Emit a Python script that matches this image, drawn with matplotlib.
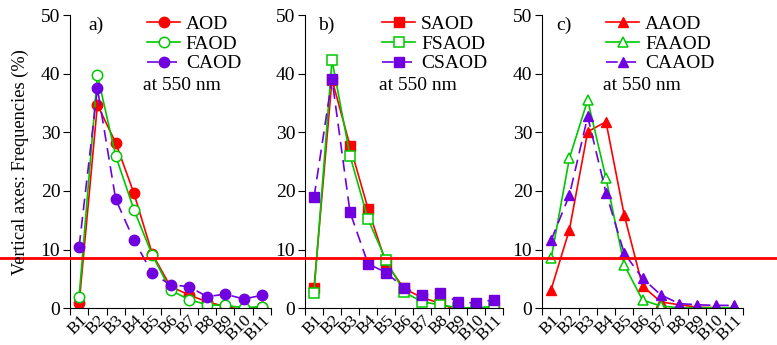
import matplotlib
matplotlib.use("Agg")
import matplotlib.pyplot as plt
from matplotlib.lines import Line2D
import numpy as np

plt.rcParams['font.family'] = ['Liberation Serif', 'DejaVu Serif']

bins = ['B1', 'B2', 'B3', 'B4', 'B5', 'B6', 'B7', 'B8', 'B9', 'B10', 'B11']

# panel a: AOD
aod = [0.85, 34.7, 28.2, 19.6, 9.3, 3.7, 2.3, 1.1, 0.3, -0.3, 0.3]
faod = [2.0, 39.8, 26.0, 16.8, 9.1, 3.1, 1.5, 0.6, 0.5, 0.1, 0.3]
caod = [10.5, 37.5, 18.6, 11.6, 6.0, 4.0, 3.7, 2.0, 2.4, 1.6, 2.2]

# panel b: SAOD
saod = [3.4, 39.0, 27.7, 17.0, 7.7, 3.4, 1.8, 0.9, -0.5, -0.7, 0.3]
fsaod = [2.6, 42.3, 26.0, 15.2, 8.2, 2.8, 1.1, 0.6, 0.1, 0.1, 0.3]
csaod = [18.9, 39.1, 16.4, 7.6, 6.1, 3.5, 2.2, 2.6, 1.1, 0.9, 1.5]

# panel c: AAOD
aaod = [3.2, 13.4, 30.1, 31.8, 15.9, 3.8, 1.1, 0.6, 0.2, 0.1, 0.1]
faaod = [8.5, 25.6, 35.5, 22.2, 7.4, 1.4, 0.4, 0.1, 0.1, 0.1, 0.1]
caaod = [11.6, 19.3, 32.7, 19.7, 9.4, 5.1, 2.3, 0.8, 0.6, 0.5, 0.5]

red = '#ff0000'
green = '#00c800'
purple = '#7000e0'

panels = [
    ('a)', 'o', [('AOD', aod), ('FAOD', faod), ('CAOD', caod)],
     [70, 201], 0.383, 0.363, 0.09),
    ('b)', 's', [('SAOD', saod), ('FSAOD', fsaod), ('CSAOD', csaod)],
     [305, 198], 0.39, 0.374, 0.066),
    ('c)', '^', [('AAOD', aaod), ('FAAOD', faaod), ('CAAOD', caaod)],
     [542, 201], 0.32, 0.303, 0.07),
]

W, H = 777, 345
fig = plt.figure(figsize=(W / 100, H / 100), dpi=100)
x = np.arange(len(bins)) + 0.5

for tag, mk, series, (left, width), leg_x, txt_x, tag_x in panels:
    ax = fig.add_axes([left / W, (H - 308.3) / H, width / W, (308.3 - 15) / H])
    (n1, v1), (n2, v2), (n3, v3) = series
    ms = 7.5 if mk != 's' else 7.0
    ax.plot(x, v1, color=red, marker=mk, ms=ms, lw=1.2, label=n1)
    ax.plot(x, v2, color=green, marker=mk, ms=ms, lw=1.2, mfc='white',
            mew=1.1, label=n2)
    ax.plot(x, v3, color=purple, marker=mk, ms=ms, lw=1.2, dashes=(7, 4),
            label=n3)
    ax.set_xlim(0, len(bins))
    ax.set_ylim(0, 50)
    ax.set_yticks([0, 10, 20, 30, 40, 50])
    ax.set_xticks(np.arange(len(bins) + 1))
    ax.set_xticklabels([])
    ax.set_xticks(x, minor=True)
    ax.set_xticklabels(bins, minor=True, rotation=45, ha='right',
                       rotation_mode='anchor', fontsize=12.5)
    ax.tick_params(axis='x', which='minor', length=0, pad=3)
    ax.tick_params(axis='x', which='major', length=5, direction='out')
    ax.tick_params(axis='y', labelsize=14, length=5, pad=2)
    ax.spines['top'].set_visible(False)
    ax.spines['right'].set_visible(False)
    ax.text(tag_x, 0.966, tag, transform=ax.transAxes, fontsize=14,
            va='center', ha='left')
    ax.text(txt_x, 0.761, 'at 550 nm', transform=ax.transAxes,
            fontsize=14, va='center', ha='left')
    ax.legend(loc='upper left', bbox_to_anchor=(leg_x, 1.0), frameon=False,
              fontsize=14, borderpad=0, borderaxespad=0, handlelength=1.7,
              handletextpad=0.3, labelspacing=0.12)

fig.text(0.026, 1 - 162 / H, 'Vertical axes: Frequencies (%)', rotation=90,
         fontsize=13.2, va='center', ha='center')

# red horizontal guide line across the whole figure
fig.add_artist(Line2D([0, 1], [1 - 258 / H, 1 - 258 / H], color=red, lw=2,
                      transform=fig.transFigure))

fig.savefig('out.png', dpi=100)
